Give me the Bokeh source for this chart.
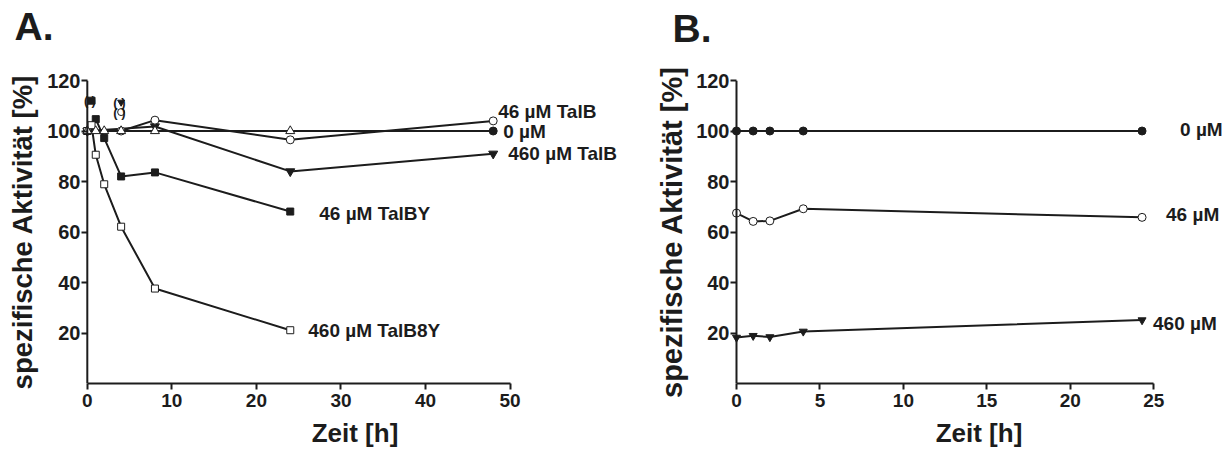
from bokeh.plotting import figure
from bokeh.layouts import row
from bokeh.models import Label, FixedTicker, Range1d, Span
from bokeh.embed import file_html
from bokeh.resources import INLINE

FONT = "Liberation Sans"
INK = "#1c1c1c"

# ---------------- Panel A data (time [h], specific activity [%]) ----------------
a_zero_t = [0, 48]
a_zero_v = [100, 100]
a_ctrl_t = [0, 1, 2, 4, 8, 24]
a_ctrl_v = [100, 100, 100, 100, 100, 100]
a_talb46_t = [0, 4, 8, 24, 48]
a_talb46_v = [100, 100, 104.3, 96.5, 104]
a_talb460_t = [0, 8, 24, 48]
a_talb460_v = [100, 101.8, 84, 91]
a_talby46_t = [0, 1, 2, 4, 8, 24]
a_talby46_v = [100, 104.7, 97.2, 82, 83.6, 68.1]
a_talb8y460_t = [0, 0.5, 1, 2, 4, 8, 24]
a_talb8y460_v = [100, 102.3, 90.6, 78.9, 62.1, 37.6, 21.1]
# values shown in parentheses (excluded from the curves)
a_out_sq_t, a_out_sq_v = [0.5], [112]
a_out_tri_t, a_out_tri_v = [4], [111.4]
a_out_circ_t, a_out_circ_v = [4], [107.5]

# ---------------- Panel B data ----------------
b_t = [0, 1, 2, 4, 24.3]
b_zero = [100, 100, 100, 100, 100]
b_46 = [67.5, 64.2, 64.4, 69.2, 65.8]
b_460 = [18.2, 18.9, 18.4, 20.6, 25.1]

a_xticks = [0, 10, 20, 30, 40, 50]
b_xticks = [0, 5, 10, 15, 20, 25]
yticks = [20, 40, 60, 80, 100, 120]


def make_fig(width, xr, xmax_axis, xticks, bl, br, bt, bb, title, title_offset, title_standoff,
             ylab_size, ylab_standoff):
    p = figure(width=width, height=450, output_backend="svg", toolbar_location=None,
               x_range=Range1d(*xr), y_range=Range1d(0, 120),
               min_border_left=bl, min_border_right=br, min_border_top=bt, min_border_bottom=bb)
    p.outline_line_color = None
    p.grid.visible = False
    p.background_fill_color = "white"
    p.border_fill_color = "white"
    # panel letter: second (empty) line lifts the letter away from the frame
    p.title.text = title + "\n "
    p.title.text_line_height = 0.7
    p.title.text_font = FONT
    p.title.text_font_style = "bold"
    p.title.text_font_size = "39px"
    p.title.text_color = INK
    p.title.align = "left"
    p.title.offset = title_offset
    p.title.standoff = title_standoff
    p.xaxis.ticker = FixedTicker(ticks=xticks)
    p.yaxis.ticker = FixedTicker(ticks=yticks)
    p.xaxis.bounds = (0, xmax_axis)
    p.xaxis.axis_label = "Zeit [h]"
    p.yaxis.axis_label = "spezifische Aktivität [%]"
    for ax in (p.xaxis, p.yaxis):
        ax.axis_line_width = 2
        ax.axis_line_color = INK
        ax.major_tick_line_width = 2
        ax.major_tick_line_color = INK
        ax.minor_tick_out = 0
        ax.minor_tick_in = 0
        ax.major_label_text_font = FONT
        ax.major_label_text_font_style = "bold"
        ax.major_label_text_color = INK
        ax.axis_label_text_font = FONT
        ax.axis_label_text_font_style = "bold"
        ax.axis_label_text_color = INK
    p.xaxis.major_tick_out = 6
    p.xaxis.major_tick_in = 0
    # y axis sits at frame edge just left of t=0: ticks point inward to the t=0 line
    p.yaxis.axis_line_color = None
    p.yaxis.major_tick_out = 0
    p.yaxis.major_tick_in = 6
    p.add_layout(Span(location=0, dimension="height", line_color=INK, line_width=2))
    p.xaxis.major_label_text_font_size = "19px"
    p.yaxis.major_label_text_font_size = "20px"
    p.xaxis.major_label_standoff = 4
    p.yaxis.major_label_standoff = 1
    p.xaxis.axis_label_text_font_size = "26px"
    p.yaxis.axis_label_text_font_size = ylab_size
    p.xaxis.axis_label_standoff = 8
    p.yaxis.axis_label_standoff = ylab_standoff
    return p


def series(p, t, v, marker, fill, size, line=True):
    if line:
        p.line(t, v, line_color=INK, line_width=2)
    p.scatter(t, v, marker=marker, size=size, fill_color=fill, line_color=INK, line_width=1)


def text(p, x, y, s, dx=0, dy=0, size="19px", style="bold", align="left", baseline="middle"):
    p.add_layout(Label(x=x, y=y, text=s, x_offset=dx, y_offset=dy, text_font=FONT,
                       text_font_style=style, text_font_size=size, text_color=INK,
                       text_align=align, text_baseline=baseline))


# ---------------- Panel A ----------------
pa = make_fig(640, (-0.686, 64.0), 50, a_xticks, 81, 12, 80, 66, "A.", -67, 5,
              "27.5px", 6)
series(pa, a_talb460_t, a_talb460_v, "inverted_triangle", INK, 9)
series(pa, a_zero_t, a_zero_v, "circle", INK, 8)
series(pa, a_talby46_t, a_talby46_v, "square", INK, 7)
series(pa, a_talb46_t, a_talb46_v, "circle", "white", 8)
series(pa, a_talb8y460_t, a_talb8y460_v, "square", "white", 7)
series(pa, a_ctrl_t, a_ctrl_v, "triangle", "white", 9)
series(pa, a_out_sq_t, a_out_sq_v, "square", INK, 7, line=False)
series(pa, a_out_tri_t, a_out_tri_v, "inverted_triangle", INK, 7, line=False)
series(pa, a_out_circ_t, a_out_circ_v, "circle", "white", 7, line=False)
text(pa, a_out_sq_t[0], a_out_sq_v[0], "(  )", size="12.5px", align="center")
text(pa, a_out_tri_t[0], a_out_tri_v[0], "(  )", size="13px", align="center")
text(pa, a_out_circ_t[0], a_out_circ_v[0], "(  )", size="13px", align="center")

text(pa, a_talb46_t[-1], a_talb46_v[-1], "46 µM TalB", dx=5, dy=9)
text(pa, a_zero_t[-1], a_zero_v[-1], "0 µM", dx=10, dy=0)
text(pa, a_talb460_t[-1], a_talb460_v[-1], "460 µM TalB", dx=15, dy=0)
text(pa, a_talby46_t[-1], a_talby46_v[-1], "46 µM TalBY", dx=29, dy=-2)
text(pa, a_talb8y460_t[-1], a_talb8y460_v[-1], "460 µM TalB8Y", dx=18, dy=0)

# ---------------- Panel B ----------------
pb = make_fig(589, (-0.359, 29.42), 25, b_xticks, 90, 2, 78, 67, "B.", -58, 1,
              "29px", 5)
series(pb, b_t, b_zero, "circle", INK, 8)
series(pb, b_t, b_46, "circle", "white", 8)
series(pb, b_t, b_460, "inverted_triangle", INK, 8)
text(pb, b_t[-1], b_zero[-1], "0 µM", dx=38, dy=2)
text(pb, b_t[-1], b_46[-1], "46 µM", dx=24, dy=3)
text(pb, b_t[-1], b_460[-1], "460 µM", dx=11, dy=-3)

layout = row(pa, pb)
open("out.html", "w").write(file_html(layout, INLINE))
